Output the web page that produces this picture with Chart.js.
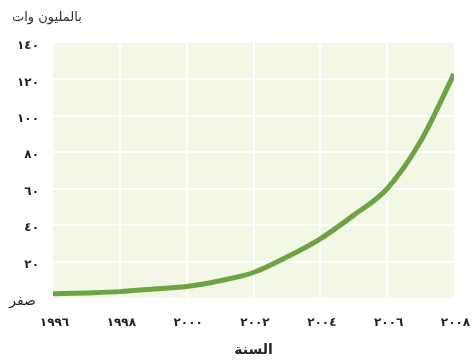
<!DOCTYPE html>
<html>
<head>
<meta charset="utf-8">
<script src="https://cdn.jsdelivr.net/npm/chart.js@4/dist/chart.umd.min.js"></script>
<style>
  html, body { margin: 0; padding: 0; background: #ffffff; }
  #wrap { width: 474px; height: 361px; position: relative; }
</style>
</head>
<body>
<div id="wrap"><canvas id="c" width="474" height="361"></canvas></div>
<script>
// Installed capacity per year, in millions of watts
const years = [1996, 1997, 1998, 1999, 2000, 2001, 2002, 2003, 2004, 2005, 2006, 2007, 2008];
const capacity = [2.3, 2.8, 3.5, 5.0, 6.3, 9.5, 14.0, 22.5, 32.5, 45.5, 60.0, 86.0, 123.0];

// Axis ticks and their Arabic labels
const yTickValues = [0, 20, 40, 60, 80, 100, 120, 140];
const yTickLabels = ['صفر', '٢٠', '٤٠', '٦٠', '٨٠', '١٠٠', '١٢٠', '١٤٠'];
const xTickValues = [1996, 1998, 2000, 2002, 2004, 2006, 2008];
const xTickLabels = ['١٩٩٦', '١٩٩٨', '٢٠٠٠', '٢٠٠٢', '٢٠٠٤', '٢٠٠٦', '٢٠٠٨'];

const unitLabel = 'بالمليون وات';
const xTitle = 'السنة';

const FONT = '"DejaVu Sans", sans-serif';
const TEXT = '#231f20';
const DIGIT_GAP = 3;

// Light green plot background
const plotBackground = {
  id: 'plotBackground',
  beforeDraw(chart) {
    const { ctx, chartArea: a } = chart;
    ctx.save();
    ctx.fillStyle = '#f2f7e6';
    ctx.fillRect(a.left, a.top, a.right - a.left, a.bottom - a.top);
    ctx.restore();
  }
};

// Spaced-out digit label, anchored by its right edge or its centre
function digits(ctx, text, x, y, align) {
  ctx.save();
  ctx.letterSpacing = DIGIT_GAP + 'px';
  ctx.textAlign = 'left';
  const w = ctx.measureText(text).width - DIGIT_GAP;
  const left = align === 'right' ? x - w : x - w / 2;
  ctx.fillText(text, left, y);
  ctx.restore();
}

// Tick labels and titles, placed with the chart's scales
const axisText = {
  id: 'axisText',
  afterDraw(chart) {
    const { ctx, scales } = chart;
    const xs = scales.x, ys = scales.y;
    ctx.save();
    ctx.fillStyle = TEXT;
    ctx.textBaseline = 'middle';

    yTickValues.forEach((v, i) => {
      const py = ys.getPixelForValue(v) + 3;
      if (i === 0) {
        ctx.font = '14px ' + FONT;
        ctx.textAlign = 'right';
        ctx.fillText(yTickLabels[i], 36, py);
      } else {
        ctx.font = 'bold 12px ' + FONT;
        digits(ctx, yTickLabels[i], 36, py, 'right');
      }
    });

    ctx.font = 'bold 12px ' + FONT;
    xTickValues.forEach((v, i) => {
      digits(ctx, xTickLabels[i], xs.getPixelForValue(v), 323, 'center');
    });

    ctx.font = 'bold 14px ' + FONT;
    ctx.textAlign = 'center';
    ctx.fillText(xTitle, (xs.left + xs.right) / 2, 350);

    ctx.font = '13px ' + FONT;
    ctx.textAlign = 'left';
    ctx.fillStyle = '#333333';
    ctx.fillText(unitLabel, 12, 18);
    ctx.restore();
  }
};

const edgeHidden = (min, max) => (c) =>
  (c.tick && (c.tick.value === min || c.tick.value === max)) ? 'rgba(0,0,0,0)' : '#ffffff';

new Chart(document.getElementById('c'), {
  type: 'line',
  data: {
    datasets: [{
      data: years.map((y, i) => ({ x: y, y: capacity[i] })),
      borderColor: '#6ca443',
      borderWidth: 5,
      pointRadius: 0,
      cubicInterpolationMode: 'monotone',
      fill: false,
      clip: 0
    }]
  },
  options: {
    responsive: false,
    animation: false,
    layout: { padding: { left: 53, right: 20, top: 43, bottom: 63 } },
    plugins: { legend: { display: false }, tooltip: { enabled: false } },
    scales: {
      x: {
        type: 'linear',
        min: 1996, max: 2008,
        ticks: { display: false, stepSize: 2 },
        border: { display: false },
        grid: { color: edgeHidden(1996, 2008), lineWidth: 2, drawTicks: false }
      },
      y: {
        min: 0, max: 140,
        ticks: { display: false, stepSize: 20 },
        border: { display: false },
        grid: { color: edgeHidden(0, 140), lineWidth: 2, drawTicks: false }
      }
    }
  },
  plugins: [plotBackground, axisText]
});
</script>
</body>
</html>
